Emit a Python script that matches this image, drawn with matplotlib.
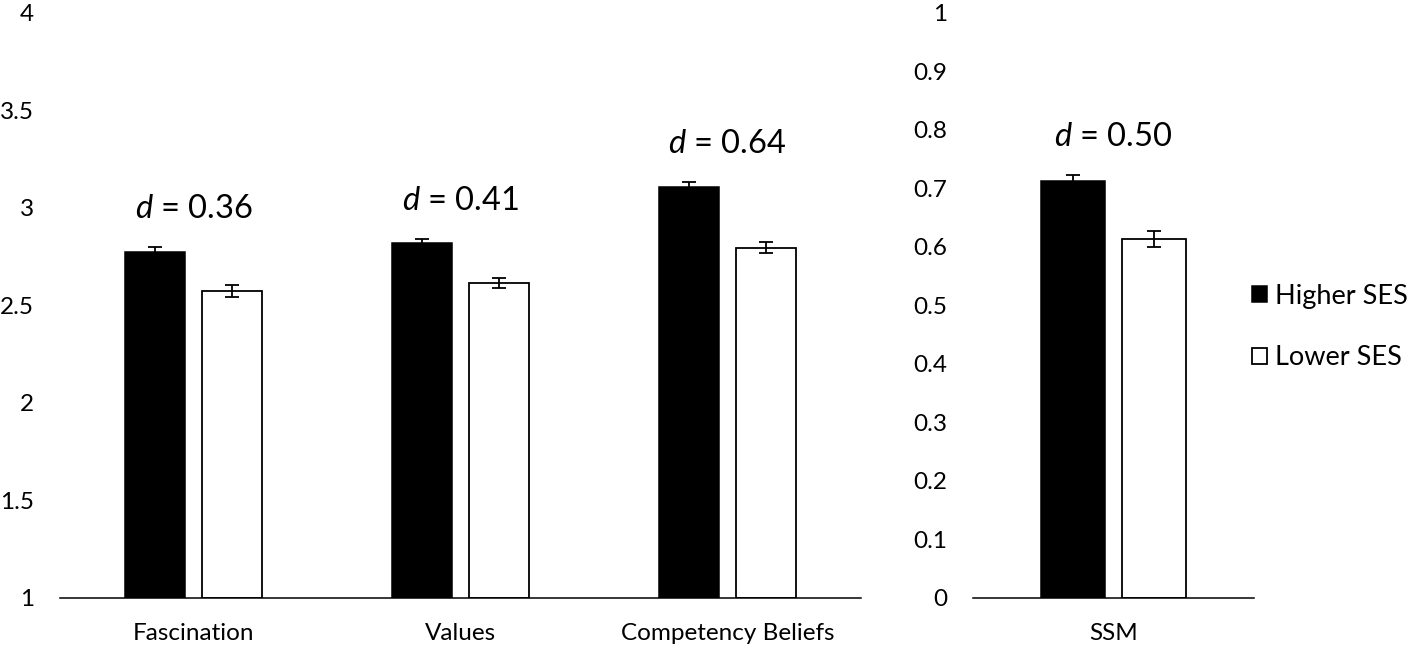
import matplotlib.pyplot as plt
import matplotlib.patches as mpatches
import numpy as np

plt.rcParams['font.family'] = ['Lato', 'DejaVu Sans']
plt.rcParams['mathtext.fontset'] = 'custom'
plt.rcParams['mathtext.it'] = 'Lato:italic'
plt.rcParams['mathtext.rm'] = 'Lato'

# left panel data
categories = ['Fascination', 'Values', 'Competency Beliefs']
higher = [2.773, 2.817, 3.107]
lower = [2.574, 2.615, 2.795]
higher_err = [0.026, 0.022, 0.023]
lower_err = [0.031, 0.027, 0.028]
d_values = ['0.36', '0.41', '0.64']

# right panel data
ssm_categories = ['SSM']
ssm_higher = [0.712]
ssm_lower = [0.613]
ssm_higher_err = [0.010]
ssm_lower_err = [0.013]
ssm_d = ['0.50']

left_ticks = [1, 1.5, 2, 2.5, 3, 3.5, 4]
left_ticklabels = ['1', '1.5', '2', '2.5', '3', '3.5', '4']
right_ticks = [0, 0.1, 0.2, 0.3, 0.4, 0.5, 0.6, 0.7, 0.8, 0.9, 1]
right_ticklabels = ['0', '0.1', '0.2', '0.3', '0.4', '0.5', '0.6', '0.7', '0.8', '0.9', '1']

fig = plt.figure(figsize=(14.18, 6.49), dpi=100)
ax1 = fig.add_axes([60/1418, 51/649, 801/1418, 585.5/649])
ax2 = fig.add_axes([973/1418, 51/649, 281/1418, 585.5/649])

width = 0.228
off = 0.144
fs = 17.5


def draw(ax, cats, hi, lo, hi_err, lo_err, dvals, ylim, ticks, ticklabels):
    x = np.arange(len(cats))
    ax.bar(x - off, np.array(hi) - ylim[0], width, bottom=ylim[0], color='black',
           edgecolor='black', linewidth=1.1)
    ax.bar(x + off, np.array(lo) - ylim[0], width, bottom=ylim[0], color='white',
           edgecolor='black', linewidth=1.3)
    ax.errorbar(x - off, hi, yerr=hi_err, fmt='none', ecolor='black',
                elinewidth=1.3, capsize=4.7, capthick=1.3)
    ax.errorbar(x + off, lo, yerr=lo_err, fmt='none', ecolor='black',
                elinewidth=1.3, capsize=4.7, capthick=1.3)
    for i, d in enumerate(dvals):
        ax.annotate(r'$d$ = ' + d, xy=(x[i], hi[i] + hi_err[i]), xytext=(0, 27.5),
                    textcoords='offset points', ha='center', va='center', fontsize=23.5)
    ax.set_xlim(-0.5, len(cats) - 0.5)
    ax.set_ylim(ylim)
    ax.set_yticks(ticks)
    ax.set_yticklabels(ticklabels)
    ax.set_xticks(x)
    ax.set_xticklabels(cats)
    ax.tick_params(axis='y', length=0, pad=18.5, labelsize=fs)
    ax.tick_params(axis='x', length=0, pad=18, labelsize=fs)
    for s in ['left', 'right', 'top']:
        ax.spines[s].set_visible(False)
    ax.spines['bottom'].set_linewidth(1.1)
    ax.spines['bottom'].set_color('black')


draw(ax1, categories, higher, lower, higher_err, lower_err, d_values, (1, 4),
     left_ticks, left_ticklabels)
draw(ax2, ssm_categories, ssm_higher, ssm_lower, ssm_higher_err, ssm_lower_err, ssm_d,
     (0, 1), right_ticks, right_ticklabels)

handles = [mpatches.Patch(facecolor='black', edgecolor='black', linewidth=1.1),
           mpatches.Patch(facecolor='white', edgecolor='black', linewidth=1.3)]
fig.legend(handles, ['Higher SES', 'Lower SES'], loc='center left',
           bbox_to_anchor=(1252/1418, 1 - 327/649), frameon=False, fontsize=19.5,
           handlelength=0.55, handleheight=0.55, handletextpad=0.3, labelspacing=1.35,
           borderpad=0, borderaxespad=0)

fig.savefig('out.png', dpi=100)
